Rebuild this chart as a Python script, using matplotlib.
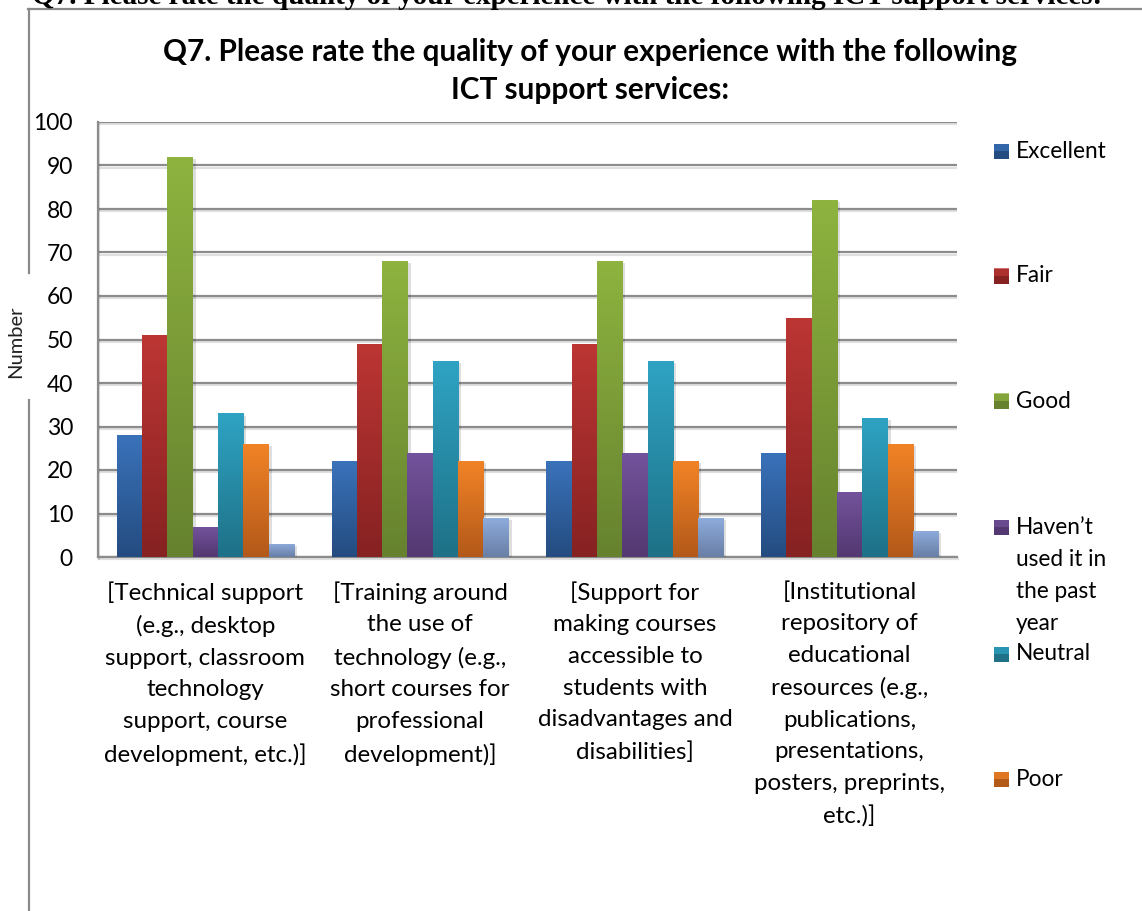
import numpy as np
import matplotlib
matplotlib.use("Agg")
import matplotlib.pyplot as plt
from matplotlib.lines import Line2D
from matplotlib.patches import Rectangle
from matplotlib.colors import to_rgb
import matplotlib.patheffects as pe

# ---- data -------------------------------------------------------------
categories = [
    "[Technical support\n(e.g., desktop\nsupport, classroom\ntechnology\nsupport, course\ndevelopment, etc.)]",
    "[Training around\nthe use of\ntechnology (e.g.,\nshort courses for\nprofessional\ndevelopment)]",
    "[Support for\nmaking courses\naccessible to\nstudents with\ndisadvantages and\ndisabilities]",
    "[Institutional\nrepository of\neducational\nresources (e.g.,\npublications,\npresentations,\nposters, preprints,\netc.)]",
]
series_names = ["Excellent", "Fair", "Good",
                "Haven\u2019t\nused it in\nthe past\nyear",
                "Neutral", "Poor", "Very poor"]
excellent = [28, 22, 22, 24]
fair = [51, 49, 49, 55]
good = [92, 68, 68, 82]
havent_used = [7, 24, 24, 15]
neutral = [33, 45, 45, 32]
poor = [26, 22, 22, 26]
very_poor = [3, 9, 9, 6]
series_values = [excellent, fair, good, havent_used, neutral, poor, very_poor]
yticks = list(range(0, 101, 10))

title = "Q7. Please rate the quality of your experience with the following\nICT support services:"
header = "Q7. Please rate the quality of your experience with the following ICT support services:"
ylabel = "Number"

# gradient colours (top, bottom) per series
grad_colors = [
    ("#3A72BA", "#244C80"),
    ("#BC3634", "#862222"),
    ("#8EB33F", "#66822F"),
    ("#73539C", "#533871"),
    ("#2FA3C3", "#1E7187"),
    ("#F18326", "#B3591A"),
    ("#8FACDC", "#687FA6"),
]
legend_count = 6  # entries visible in the legend column

W, H, DPI = 1142, 911, 100
FONT = "Lato"
plt.rcParams["font.family"] = [FONT, "DejaVu Sans"]

fig = plt.figure(figsize=(W / DPI, H / DPI), dpi=DPI)
fig.patch.set_facecolor("white")

def fx(px):
    return px / W

def fy(py):
    return 1 - py / H

ax = fig.add_axes([fx(98), fy(557), fx(957) - fx(98), fy(122) - fy(557)])

n_series = len(series_values)
bar_w = 0.1178
x = np.arange(len(categories))

grey = "#8C8C8C"

for i, (vals, (ctop, cbot)) in enumerate(zip(series_values, grad_colors)):
    offs = (i - (n_series - 1) / 2) * bar_w
    bars = ax.bar(x + offs, vals, width=bar_w, color=cbot, linewidth=0, zorder=3,
                  label=series_names[i])
    top = np.array(to_rgb(ctop))
    bot = np.array(to_rgb(cbot))
    t = np.linspace(0, 1, 64)[:, None]
    grad = (top * (1 - t) + bot * t)[:, None, :]
    for b in bars:
        b.set_path_effects([pe.SimplePatchShadow(offset=(2.2, -1.5), shadow_rgbFace="k", alpha=0.13),
                            pe.Normal()])
        bx, bw, bh = b.get_x(), b.get_width(), b.get_height()
        im = ax.imshow(grad, extent=[bx, bx + bw, 0, bh], aspect="auto",
                       interpolation="bilinear", zorder=4)
        im.set_clip_path(b)

ax.set_xlim(-0.5, len(categories) - 0.5)
ax.set_ylim(0, 100)
ax.set_yticks(yticks)
ax.set_yticklabels([str(v) for v in yticks], fontsize=16.5, color="black")
ax.set_xticks(x)
ax.set_xticklabels(categories, fontsize=17.4, linespacing=1.62, color="black",
                   va="top", ha="center")
ax.tick_params(axis="both", length=0)
ax.tick_params(axis="y", pad=18)
ax.tick_params(axis="x", pad=17.5)

ax.set_axisbelow(True)
ax.yaxis.grid(True, color=grey, linewidth=1.6)
for gl in ax.get_ygridlines():
    gl.set_path_effects([pe.SimpleLineShadow(offset=(0, -1.5), shadow_color="k", alpha=0.12),
                         pe.Normal()])
for s in ("top", "right"):
    ax.spines[s].set_visible(False)
for s in ("left", "bottom"):
    ax.spines[s].set_color(grey)
    ax.spines[s].set_linewidth(1.6)
    ax.spines[s].set_path_effects([pe.SimpleLineShadow(offset=(1, -1.2), shadow_color="k", alpha=0.12),
                                   pe.Normal()])

# chart title
fig.text(fx(590), fy(71), title, ha="center", va="center", fontsize=21.4,
         fontweight="bold", linespacing=1.44, color="black")

# y axis label
fig.text(fx(16), fy(342), ylabel, rotation=90, ha="center", va="center",
         fontsize=14.5, color="#222222")

# legend column
leg_y = [151, 276, 401, 527, 654, 779]
for i in range(legend_count):
    ctop, cbot = grad_colors[i]
    cy = leg_y[i]
    fig.add_artist(Rectangle((fx(994), fy(cy + 7.5)), fx(15), fy(cy - 7.5) - fy(cy + 7.5),
                             transform=fig.transFigure, facecolor=cbot, edgecolor="none"))
    fig.add_artist(Rectangle((fx(994), fy(cy)), fx(15), fy(cy - 7.5) - fy(cy),
                             transform=fig.transFigure, facecolor=ctop, edgecolor="none",
                             alpha=0.7))
    name = series_names[i]
    if "\n" in name:
        fig.text(fx(1016), fy(cy - 9.5), name, ha="left", va="top", fontsize=16.3,
                 linespacing=1.63, color="black")
    else:
        fig.text(fx(1016), fy(cy), name, ha="left", va="center", fontsize=16.3,
                 color="black")

# outer frame lines
frame_c = "#8A8A8A"
fig.add_artist(Line2D([fx(28), 1.0], [fy(9), fy(9)], transform=fig.transFigure,
                      color=frame_c, linewidth=1.6))
fig.add_artist(Line2D([fx(29), fx(29)], [fy(9), fy(273)], transform=fig.transFigure,
                      color=frame_c, linewidth=1.6))
fig.add_artist(Line2D([fx(29), fx(29)], [fy(400), 0.0], transform=fig.transFigure,
                      color=frame_c, linewidth=1.6))

# document heading above the chart frame
hdr = fig.text(fx(32), fy(3.5), header, ha="left", va="baseline",
               fontsize=18, fontweight="bold", family="Liberation Serif", color="black")
fig.canvas.draw()
ext = hdr.get_window_extent()
hdr.set_fontsize(18 * (1073 / ext.width))

fig.savefig("out.png", dpi=DPI, facecolor="white")
